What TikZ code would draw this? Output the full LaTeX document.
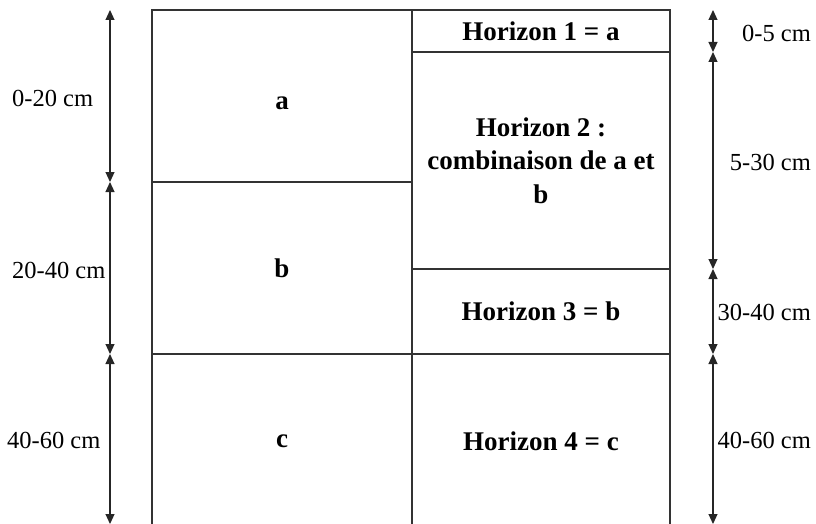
\documentclass[tikz,border=0pt]{standalone}
\usepackage{fontspec}
\setmainfont{Liberation Serif}
\usetikzlibrary{arrows.meta}
\begin{document}
\begin{tikzpicture}[x=1pt,y=-1pt,
  cell/.style={draw=black!80, line width=1.2pt, minimum width=#1, inner sep=0pt, font=\fontsize{27}{33.5}\selectfont\bfseries, align=center},
  cellh/.style={minimum height=#1},
  dim/.style={draw=black!85, line width=1.1pt, {Triangle[width=9pt,length=10pt]}-{Triangle[width=9pt,length=10pt]}},
  lab/.style={font=\fontsize{24.5}{29}\selectfont, inner sep=0pt}]
\useasboundingbox (0,0) rectangle (816,524);
% left column
\node[cell=260pt, cellh=172pt] (a) at (282,96) {\raisebox{-7pt}[\height][0pt]{a}};
\node[cell=260pt, cellh=172pt] (b) at (282,268) {b};
\node[cell=260pt, cellh=174pt] (c) at (282,441) {c};
% right column
\node[cell=258pt, cellh=42pt] (h1) at (541,31) {Horizon 1 = a};
\node[cell=258pt, cellh=217pt] (h2) at (541,160.5) {Horizon 2 :\\combinaison de a et\\b};
\node[cell=258pt, cellh=85pt] (h3) at (541,311.5) {Horizon 3 = b};
\node[cell=258pt, cellh=174pt] (h4) at (541,441) {Horizon 4 = c};
% left dimension lines
\coordinate (L0) at (110,10);
\coordinate (L1) at (110,182);
\coordinate (L2) at (110,354);
\coordinate (L3) at (110,524);
\draw[dim] (L0) -- (L1);
\draw[dim] (L1) -- (L2);
\draw[dim] (L2) -- (L3);
% right dimension lines
\coordinate (R0) at (713,10);
\coordinate (R1) at (713,52);
\coordinate (R2) at (713,269);
\coordinate (R3) at (713,354);
\coordinate (R4) at (713,524);
\draw[dim] (R0) -- (R1);
\draw[dim] (R1) -- (R2);
\draw[dim] (R2) -- (R3);
\draw[dim] (R3) -- (R4);
% labels
\node[lab, anchor=west] (l1) at (12,98) {0-20 cm};
\node[lab, anchor=west] (l2) at (12,270) {20-40 cm};
\node[lab, anchor=west] (l3) at (7,440) {40-60 cm};
\node[lab, anchor=east] (r1) at (811,33) {0-5 cm};
\node[lab, anchor=east] (r2) at (811,162) {5-30 cm};
\node[lab, anchor=east] (r3) at (811,312) {30-40 cm};
\node[lab, anchor=east] (r4) at (811,440) {40-60 cm};
\end{tikzpicture}
\end{document}
